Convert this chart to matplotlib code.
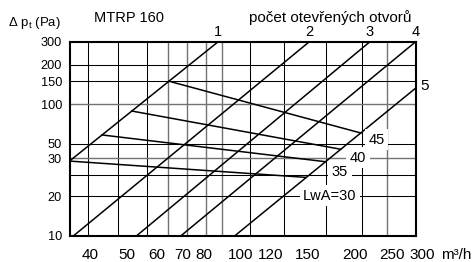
import matplotlib
matplotlib.use("Agg")
import matplotlib.pyplot as plt
from matplotlib.ticker import NullLocator
from matplotlib.transforms import blended_transform_factory

plt.rcParams['font.family'] = ['Liberation Sans', 'DejaVu Sans']
plt.rcParams['mathtext.fontset'] = 'custom'
plt.rcParams['mathtext.rm'] = 'Liberation Sans'

# ---- data ----
# system curves (number of open holes): end points (flow m3/h, pressure Pa)
curve_labels = ['1', '2', '3', '4', '5']
curve_q = [[35.3, 87.1], [36.2, 151.5], [53.1, 218.9], [69.5, 289.0], [96.4, 289.0]]
curve_dp = [[37.0, 300.0], [10.0, 300.0], [10.0, 300.0], [10.0, 300.0], [10.0, 133.0]]

# sound power level lines LwA
lwa_labels = ['45', '40', '35', 'LwA=30']
lwa_q = [[64.6, 207.2], [51.5, 183.4], [43.0, 167.0], [35.3, 148.4]]
lwa_dp = [[150.0, 60.5], [89.0, 45.5], [58.5, 36.6], [37.0, 27.8]]

# axis tick labels
x_tick_values = [40, 50, 60, 70, 80, 100, 120, 150, 200, 250, 300]
y_tick_values = [10, 20, 38.8, 50, 100, 150, 200, 300]
y_tick_labels = ['10', '20', '30', '50', '100', '150', '200', '300']

# grid lines as drawn in the chart
vgrid_black = [39.4, 47.3, 56.4, 105.7, 129.8, 167.3, 208.0]
vgrid_gray = [64.1, 72.2, 80.9, 88.9, 242.4]
hgrid_black = [20, 29, 50, 150, 200]
hgrid_gray = [38.8, 100]

W, H = 474, 262
fig = plt.figure(figsize=(W / 100, H / 100), dpi=100)
ax = fig.add_axes([69.5 / W, (H - 235.7) / H, (415.7 - 69.5) / W, 194 / H])
ax.set_xscale('log')
ax.set_yscale('log')
ax.set_xlim(35.3, 289)
ax.set_ylim(10, 300)

for v in vgrid_black:
    ax.axvline(v, color='black', lw=0.75, zorder=1)
for v in vgrid_gray:
    ax.axvline(v, color='#727272', lw=1.0, zorder=1)
for v in hgrid_black:
    ax.axhline(v, color='black', lw=0.75, zorder=1)
for v in hgrid_gray:
    ax.axhline(v, color='#727272', lw=1.0, zorder=1)

for q, dp in zip(curve_q, curve_dp):
    ax.plot(q, dp, color='black', lw=1.1, zorder=3)
for q, dp in zip(lwa_q, lwa_dp):
    ax.plot(q, dp, color='black', lw=1.1, zorder=3)

for s in ax.spines.values():
    s.set_linewidth(1.5)
    s.set_color('black')
    s.set_zorder(4)

ax.xaxis.set_major_locator(NullLocator())
ax.xaxis.set_minor_locator(NullLocator())
ax.set_yticks(y_tick_values, labels=y_tick_labels)
ax.yaxis.set_minor_locator(NullLocator())
ax.tick_params(axis='y', length=0, pad=5.4, labelsize=9.2)

xt = ax.get_xaxis_transform()
for v in x_tick_values:
    ax.text(v, -0.0995, str(v), transform=xt, ha='center', va='center',
            fontsize=11, clip_on=False)
ax.annotate('m³/h', xy=(300, -0.0995), xycoords=xt, xytext=(13.5, 0),
            textcoords='offset points', ha='left', va='center', fontsize=11,
            annotation_clip=False)

# curve numbers
for lab, q in zip(curve_labels[:4], curve_q[:4]):
    ax.text(q[1], 1.05, lab, transform=xt, ha='center', va='center',
            fontsize=10.5, clip_on=False)
bt = blended_transform_factory(ax.transAxes, ax.transData)
ax.text(1.027, 138, curve_labels[4], transform=bt, ha='center', va='center',
        fontsize=11, clip_on=False)

# LwA labels
lwa_pos = [(227.9, 53.6), (203.8, 39.3), (182.4, 30.4), (171.6, 20.2)]
for lab, (x, y) in zip(lwa_labels, lwa_pos):
    ax.text(x, y, lab, ha='center', va='center', fontsize=10.5, zorder=5,
            bbox=dict(facecolor='white', edgecolor='none', pad=2.5))

fig.text(8 / W, 1 - 23 / H, 'Δ p$_\\mathrm{t}$ (Pa)', ha='left', va='center', fontsize=9.5)
fig.text(129 / W, 1 - 18 / H, 'MTRP 160', ha='center', va='center', fontsize=10.5)
fig.text(330 / W, 1 - 18 / H, 'počet otevřených otvorů', ha='center', va='center', fontsize=11)

fig.savefig('out.png', dpi=100, facecolor='white')
